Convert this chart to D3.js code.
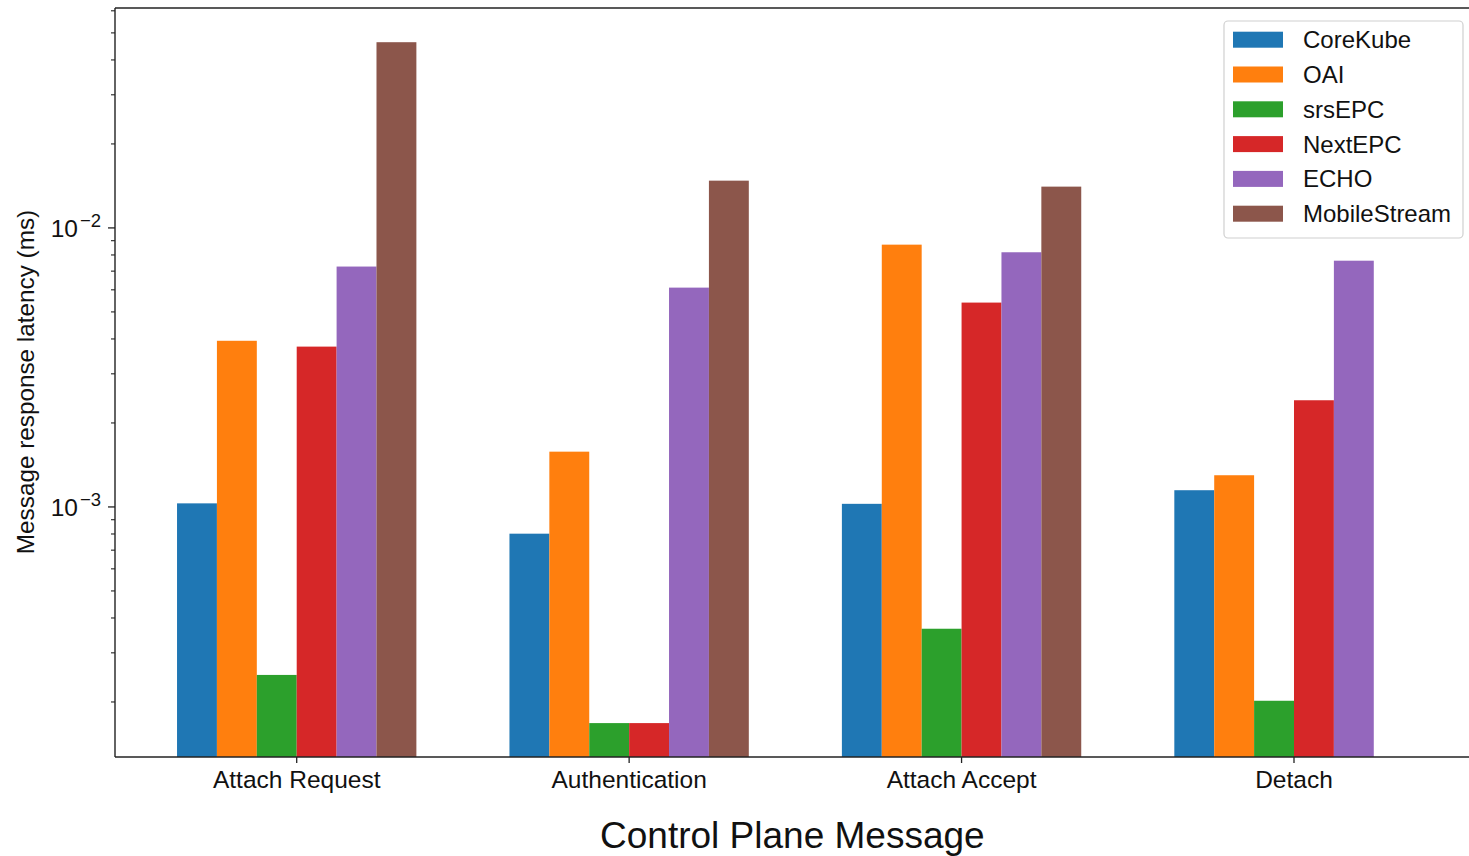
<!DOCTYPE html>
<html>
<head>
<meta charset="utf-8">
<script src="https://cdn.jsdelivr.net/npm/d3@7"></script>
<style>
  html, body { margin: 0; padding: 0; background: #fff; }
  svg { display: block; font-family: "Liberation Sans", Arial, sans-serif; }
</style>
</head>
<body>
<svg id="chart" width="1469" height="856"></svg>
<script>
// ---- data ----
const categories = ["Attach Request", "Authentication", "Attach Accept", "Detach"];
const seriesNames = ["CoreKube", "OAI", "srsEPC", "NextEPC", "ECHO", "MobileStream"];
const seriesColors = ["#1f77b4", "#ff7f0e", "#2ca02c", "#d62728", "#9467bd", "#8c564b"];
const coreKube     = [1.03e-3, 8.02e-4, 1.026e-3, 1.148e-3];
const oai          = [3.94e-3, 1.578e-3, 8.71e-3, 1.299e-3];
const srsEPC       = [2.50e-4, 1.68e-4, 3.66e-4, 2.02e-4];
const nextEPC      = [3.755e-3, 1.68e-4, 5.40e-3, 2.412e-3];
const echo         = [7.27e-3, 6.11e-3, 8.18e-3, 7.63e-3];
const mobileStream = [0.0463, 0.01477, 0.01406, null];
const seriesValues = [coreKube, oai, srsEPC, nextEPC, echo, mobileStream];
const yMajorTicks = [1e-3, 1e-2];
const yTickExponents = ["\u22123", "\u22122"];
const xTitle = "Control Plane Message";
const yTitle = "Message response latency (ms)";

// ---- layout ----
(function () {
const svg = d3.select("#chart");
const pLeft = 115, pRight = 1475.7, pTop = 8, pBottom = 757;
const barW = 0.12;

const x = d3.scaleLinear().domain([-0.5466, categories.length - 1 + 0.5466]).range([pLeft, pRight]);
const y = d3.scaleLog().domain([1.27e-4, 0.0614]).range([pBottom, pTop]);

// bars
const bars = [];
seriesValues.forEach((vals, si) => {
  vals.forEach((v, ci) => {
    if (v == null) return;
    bars.push({ si, ci, v });
  });
});
svg.append("g").selectAll("rect").data(bars).join("rect")
  .attr("x", d => x(d.ci - 3 * barW + d.si * barW))
  .attr("width", d => x(barW) - x(0))
  .attr("y", d => y(d.v))
  .attr("height", d => pBottom - y(d.v))
  .attr("fill", d => seriesColors[d.si]);

// y axis minor ticks
const minor = [];
[1e-4, 1e-3, 1e-2].forEach(dec => {
  for (let k = 2; k <= 9; k++) {
    const v = k * dec;
    if (v >= y.domain()[0] && v <= y.domain()[1]) minor.push(v);
  }
});
const axisColor = "#222";
svg.append("g").selectAll("line").data(minor).join("line")
  .attr("x1", pLeft - 4).attr("x2", pLeft)
  .attr("y1", d => y(d)).attr("y2", d => y(d))
  .attr("stroke", axisColor).attr("stroke-width", 1.1);
svg.append("g").selectAll("line").data(yMajorTicks).join("line")
  .attr("x1", pLeft - 7).attr("x2", pLeft)
  .attr("y1", d => y(d)).attr("y2", d => y(d))
  .attr("stroke", axisColor).attr("stroke-width", 1.3);

// y tick labels 10^-n
const yl = svg.append("g").selectAll("text").data(yMajorTicks).join("text")
  .attr("x", pLeft - 14)
  .attr("y", d => y(d) + 9)
  .attr("text-anchor", "end")
  .attr("font-size", 24.5)
  .attr("fill", "#111");
yl.append("tspan").text("10");
yl.append("tspan").attr("dx", 2).attr("dy", -10).attr("font-size", 18.5).text((d, i) => yTickExponents[i]);

// x ticks
svg.append("g").selectAll("line").data(categories).join("line")
  .attr("x1", (d, i) => x(i)).attr("x2", (d, i) => x(i))
  .attr("y1", pBottom).attr("y2", pBottom + 6)
  .attr("stroke", axisColor).attr("stroke-width", 1.3);
svg.append("g").selectAll("text").data(categories).join("text")
  .attr("x", (d, i) => x(i))
  .attr("y", 788)
  .attr("text-anchor", "middle")
  .attr("font-size", 24.5)
  .attr("fill", "#111")
  .text(d => d);

// spines
svg.append("line").attr("x1", pLeft).attr("x2", pRight).attr("y1", pBottom).attr("y2", pBottom)
  .attr("stroke", axisColor).attr("stroke-width", 1.4);
svg.append("line").attr("x1", pLeft).attr("x2", pRight).attr("y1", pTop).attr("y2", pTop)
  .attr("stroke", axisColor).attr("stroke-width", 1.4);
svg.append("line").attr("x1", pLeft).attr("x2", pLeft).attr("y1", pTop).attr("y2", pBottom)
  .attr("stroke", axisColor).attr("stroke-width", 1.4);
svg.append("line").attr("x1", pRight).attr("x2", pRight).attr("y1", pTop).attr("y2", pBottom)
  .attr("stroke", axisColor).attr("stroke-width", 1.4);

// axis titles
svg.append("text")
  .attr("x", (pLeft + pRight) / 2 - 3).attr("y", 848)
  .attr("text-anchor", "middle").attr("font-size", 37).attr("fill", "#111")
  .text(xTitle);
svg.append("text")
  .attr("transform", "translate(34," + 382 + ") rotate(-90)")
  .attr("text-anchor", "middle").attr("font-size", 24.3).attr("fill", "#111")
  .text(yTitle);

// legend
const lg = svg.append("g");
lg.append("rect").attr("x", 1224).attr("y", 21).attr("width", 239).attr("height", 217)
  .attr("rx", 4).attr("fill", "#fff").attr("fill-opacity", 0.85)
  .attr("stroke", "#d0d0d0").attr("stroke-width", 1.2);
const items = lg.selectAll("g.item").data(seriesNames).join("g").attr("class", "item")
  .attr("transform", (d, i) => "translate(0," + (31.7 + i * 34.8) + ")");
items.append("rect").attr("x", 1233).attr("y", 0).attr("width", 50).attr("height", 16)
  .attr("fill", (d, i) => seriesColors[i]);
items.append("text").attr("x", 1303).attr("y", 16.5)
  .attr("font-size", 24).attr("fill", "#111").text(d => d);
})();
</script>
</body>
</html>
